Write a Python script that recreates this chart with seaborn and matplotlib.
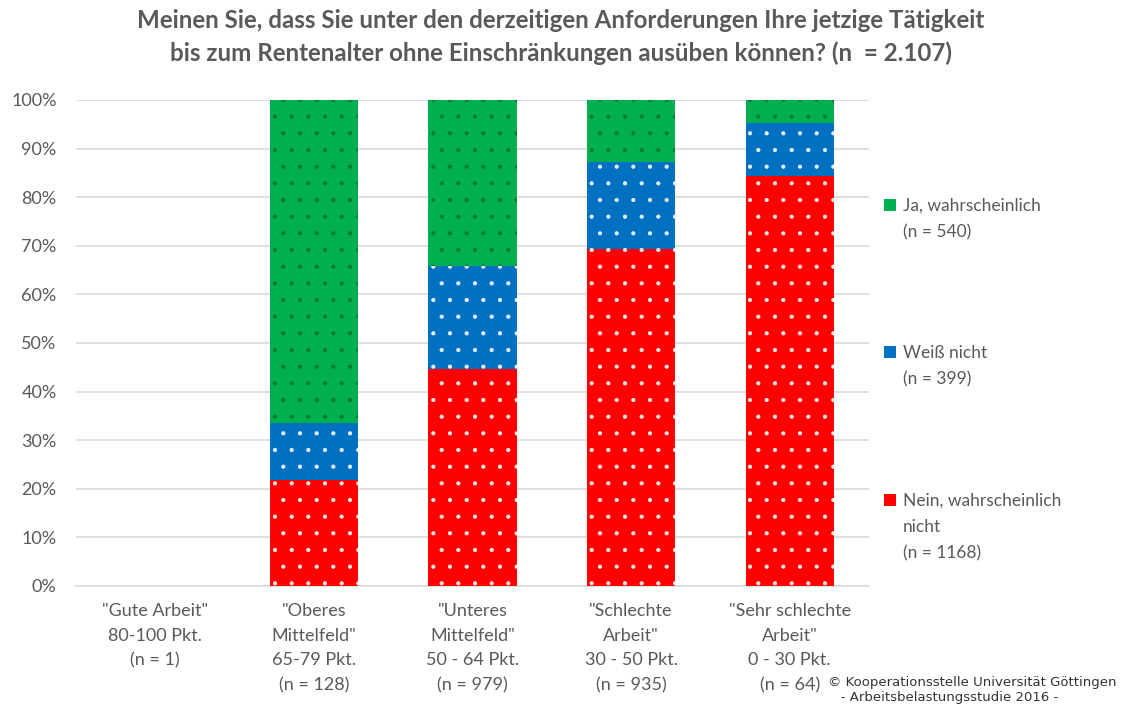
import matplotlib
matplotlib.use("Agg")
import matplotlib.pyplot as plt
import seaborn as sns
import pandas as pd
import numpy as np
from matplotlib.patches import Rectangle

categories = ['"Gute Arbeit"\n80-100 Pkt.\n(n = 1)',
              '"Oberes\nMittelfeld"\n65-79 Pkt.\n(n = 128)',
              '"Unteres\nMittelfeld"\n50 - 64 Pkt.\n(n = 979)',
              '"Schlechte\nArbeit"\n30 - 50 Pkt.\n(n = 935)',
              '"Sehr schlechte\nArbeit"\n0 - 30 Pkt.\n(n = 64)']
nein = [0, 21.8, 44.6, 69.3, 84.4]
weiss = [0, 11.8, 21.2, 17.9, 10.9]
ja = [0, 66.4, 34.2, 12.8, 4.7]
legend_labels = ["Ja, wahrscheinlich\n(n = 540)", "Weiß nicht\n(n = 399)",
                 "Nein, wahrscheinlich\nnicht\n(n = 1168)"]
title = ("Meinen Sie, dass Sie unter den derzeitigen Anforderungen Ihre jetzige Tätigkeit\n"
         "bis zum Rentenalter ohne Einschränkungen ausüben können? (n  = 2.107)")

sns.set_theme(style="white")
plt.rcParams['font.family'] = ['Lato', 'DejaVu Sans']
plt.rcParams['hatch.linewidth'] = 0.6

GREY = "#595959"
C_RED, C_BLUE, C_GREEN = "#FF0000", "#0070C0", "#00B050"

df = pd.DataFrame({"cat": categories, "nein": nein, "weiss": weiss, "ja": ja})
df["c_blue"] = df["nein"] + df["weiss"]
df["c_green"] = df["c_blue"] + df["ja"]

fig = plt.figure(figsize=(11.21, 7.19), dpi=100)
ax = fig.add_axes([76/1121, 1 - 586/719, (869-76)/1121, (586-100)/719])

for col, color, hcol in [("c_green", C_GREEN, "#0a7a30"),
                         ("c_blue", C_BLUE, "#e6f0ff"),
                         ("nein", C_RED, "#ffe6e6")]:
    sns.barplot(data=df, x="cat", y=col, color=color, width=0.555, ax=ax,
                saturation=1, errorbar=None, hatch=".", edgecolor=hcol,
                linewidth=0, zorder=3)

ax.set_ylim(0, 100)
ax.set_xlim(-0.5, 4.5)
ax.set_yticks(np.arange(0, 101, 10))
ax.set_yticklabels([f"{v}%" for v in range(0, 101, 10)])
ax.yaxis.grid(True, color="#d9d9d9", linewidth=1.2, zorder=0)
ax.set_axisbelow(True)
for s in ["left", "right", "top"]:
    ax.spines[s].set_visible(False)
ax.spines["bottom"].set_color("#d9d9d9")
ax.spines["bottom"].set_linewidth(1.2)
ax.set_xlabel("")
ax.set_ylabel("")
ax.tick_params(axis="y", length=0, pad=14, labelsize=13, labelcolor=GREY)
ax.tick_params(axis="x", length=0, pad=12, labelsize=13, labelcolor=GREY)
for t in ax.get_xticklabels():
    t.set_linespacing(1.68)

fig.text(561/1121, 1 - 37/719, title, ha="center", va="center", fontsize=17.4,
         fontweight="bold", color=GREY, linespacing=1.45)

# legend
leg_colors = [(C_GREEN, "#0a7a30"), (C_BLUE, "#e6f0ff"), (C_RED, "#ffe6e6")]
leg_y = [205, 352, 500]
for (fc, hc), lab, y in zip(leg_colors, legend_labels, leg_y):
    fig.patches.append(Rectangle((884/1121, 1 - (y + 6)/719), 12/1121, 12/719,
                                 transform=fig.transFigure, facecolor=fc,
                                 edgecolor=hc, linewidth=0))
    fig.text(903/1121, 1 - (y - 7)/719, lab, ha="left", va="top", fontsize=12.5,
             color=GREY, linespacing=1.78)

fig.text(828/1121, 1 - 690/719,
         "© Kooperationsstelle Universität Göttingen\n   - Arbeitsbelastungsstudie 2016 -",
         ha="left", va="center", fontsize=9.5, color="#333333",
         family="DejaVu Sans", linespacing=1.2)

fig.savefig("out.png", dpi=100)
